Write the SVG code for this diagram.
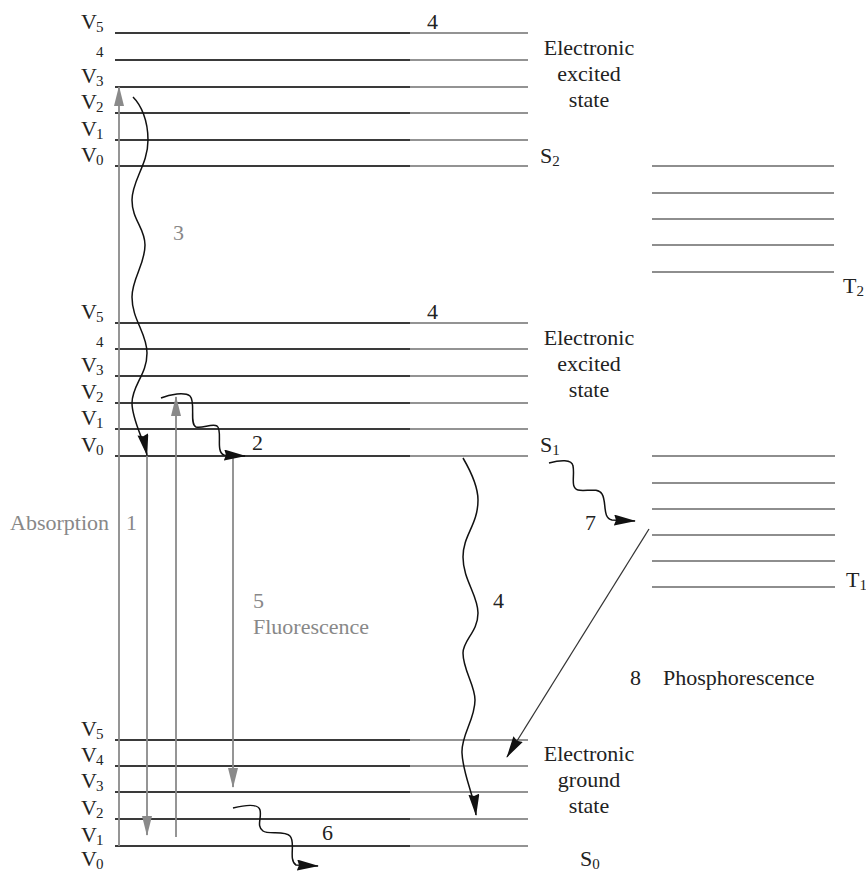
<svg xmlns="http://www.w3.org/2000/svg" width="866" height="871" viewBox="0 0 866 871" font-family="Liberation Serif, DejaVu Serif, serif">
<style>
text{font-size:22px;fill:#222}
.g{fill:#888}
.sub{font-size:15px}
.lvL{stroke:#3a3a3a;stroke-width:1.8}
.lvR{stroke:#707070;stroke-width:1.5}
.lvT{stroke:#6a6a6a;stroke-width:1.6}
.ga{stroke:#8a8a8a;stroke-width:1.8;fill:none;marker-end:url(#gh)}
.wa{stroke:#111;stroke-width:1.5;fill:none;marker-end:url(#bh)}
.ctr{text-anchor:middle}
</style>
<defs>
<marker id="gh" markerUnits="userSpaceOnUse" markerWidth="22" markerHeight="12" refX="19" refY="5" orient="auto">
<path d="M0,0 L20,5 L0,10 z" fill="#8a8a8a"/>
</marker>
<marker id="bh" markerUnits="userSpaceOnUse" markerWidth="24" markerHeight="12" refX="21" refY="5.5" orient="auto">
<path d="M0,0 L22,5.5 L0,11 L2,5.5 z" fill="#111"/>
</marker>
</defs>

<g id="S2">
<path class="lvL" d="M115,33H410M115,60H410M115,87H410M115,113H410M115,140H410M115,166H410"/>
<path class="lvR" d="M410,33H528M410,60H528M410,87H528M410,113H528M410,140H528M410,166H528"/>
<text x="81" y="29">V<tspan class="sub" dx="-1" dy="3">5</tspan></text>
<text x="96" y="57" class="sub">4</text>
<text x="81" y="83">V<tspan class="sub" dx="-1" dy="3">3</tspan></text>
<text x="81" y="109">V<tspan class="sub" dx="-1" dy="3">2</tspan></text>
<text x="81" y="136">V<tspan class="sub" dx="-1" dy="3">1</tspan></text>
<text x="81" y="162">V<tspan class="sub" dx="-1" dy="3">0</tspan></text>
<text x="427" y="29">4</text>
<text x="589" y="55" class="ctr">Electronic</text>
<text x="589" y="81" class="ctr">excited</text>
<text x="589" y="107" class="ctr">state</text>
<text x="540" y="163">S<tspan class="sub" dy="3">2</tspan></text>
</g>

<g id="S1">
<path class="lvL" d="M115,323H410M115,349H410M115,376H410M115,403H410M115,429H410M115,456H410"/>
<path class="lvR" d="M410,323H528M410,349H528M410,376H528M410,403H528M410,429H528M410,456H528"/>
<text x="81" y="319">V<tspan class="sub" dx="-1" dy="3">5</tspan></text>
<text x="96" y="347" class="sub">4</text>
<text x="81" y="372">V<tspan class="sub" dx="-1" dy="3">3</tspan></text>
<text x="81" y="399">V<tspan class="sub" dx="-1" dy="3">2</tspan></text>
<text x="81" y="425">V<tspan class="sub" dx="-1" dy="3">1</tspan></text>
<text x="81" y="452">V<tspan class="sub" dx="-1" dy="3">0</tspan></text>
<text x="427" y="319">4</text>
<text x="589" y="345" class="ctr">Electronic</text>
<text x="589" y="371" class="ctr">excited</text>
<text x="589" y="397" class="ctr">state</text>
<text x="540" y="452">S<tspan class="sub" dy="3">1</tspan></text>
</g>

<g id="S0">
<path class="lvL" d="M115,740H410M115,766H410M115,792H410M115,819H410M115,846H410"/>
<path class="lvR" d="M410,740H528M410,766H528M410,792H528M410,819H528M410,846H528"/>
<text x="81" y="736">V<tspan class="sub" dx="-1" dy="3">5</tspan></text>
<text x="81" y="762">V<tspan class="sub" dx="-1" dy="3">4</tspan></text>
<text x="81" y="788">V<tspan class="sub" dx="-1" dy="3">3</tspan></text>
<text x="81" y="815">V<tspan class="sub" dx="-1" dy="3">2</tspan></text>
<text x="81" y="842">V<tspan class="sub" dx="-1" dy="3">1</tspan></text>
<text x="81" y="866">V<tspan class="sub" dx="-1" dy="3">0</tspan></text>
<text x="589" y="761" class="ctr">Electronic</text>
<text x="589" y="787" class="ctr">ground</text>
<text x="589" y="813" class="ctr">state</text>
<text x="580" y="866">S<tspan class="sub" dy="3">0</tspan></text>
</g>

<g id="T2">
<path class="lvT" d="M652,166H834M652,193H834M652,219H834M652,245H834M652,272H834"/>
<text x="843" y="293">T<tspan class="sub" dy="3">2</tspan></text>
</g>

<g id="T1">
<path class="lvT" d="M652,456H835M652,483H835M652,509H835M652,535H835M652,561H835M652,587H835"/>
<text x="846" y="587">T<tspan class="sub" dy="3">1</tspan></text>
</g>

<g id="connectors">
<path class="ga" d="M119,846V87"/>
<path class="ga" d="M147,456V835"/>
<path class="ga" d="M176,837V397"/>
<path class="ga" d="M233,458V787"/>
<path class="wa" d="M133,97C141,105 148,120 148,140C148,165 132,180 132,200C132,220 145,228 145,245C145,265 132,278 132,297C132,320 147,333 147,353C147,375 132,385 132,403C132,420 144,440 147,455"/>
<path class="wa" d="M161,398C170,394 185,392 190,396C196,402 189,424 196,427C202,429 212,423 217,426C223,430 215,452 224,455L245,456"/>
<path class="wa" d="M233,808C245,805 258,803 260,810C262,818 256,826 263,831C268,835 285,830 290,836C296,842 288,860 296,865L318,866"/>
<path class="wa" d="M463,458C470,470 478,485 478,500C478,525 463,535 463,557C463,580 478,595 478,613C478,632 463,640 463,653C463,670 475,685 475,700C475,720 461,735 462,753C463,775 474,795 476,815"/>
<path class="wa" d="M549,463C560,460 572,459 573,466C575,475 570,488 578,490C585,492 598,487 602,494C607,502 602,518 612,520L635,521"/>
<path d="M649,529L507,757" stroke="#333" stroke-width="1.3" fill="none" marker-end="url(#bh)"/>
</g>

<g id="labels">
<text x="10" y="530" class="g">Absorption</text>
<text x="126" y="530" class="g">1</text>
<text x="173" y="240" class="g">3</text>
<text x="252" y="450">2</text>
<text x="253" y="608" class="g">5</text>
<text x="253" y="634" class="g">Fluorescence</text>
<text x="493" y="608">4</text>
<text x="322" y="840">6</text>
<text x="585" y="530">7</text>
<text x="630" y="685">8</text>
<text x="663" y="685">Phosphorescence</text>
</g>
</svg>
